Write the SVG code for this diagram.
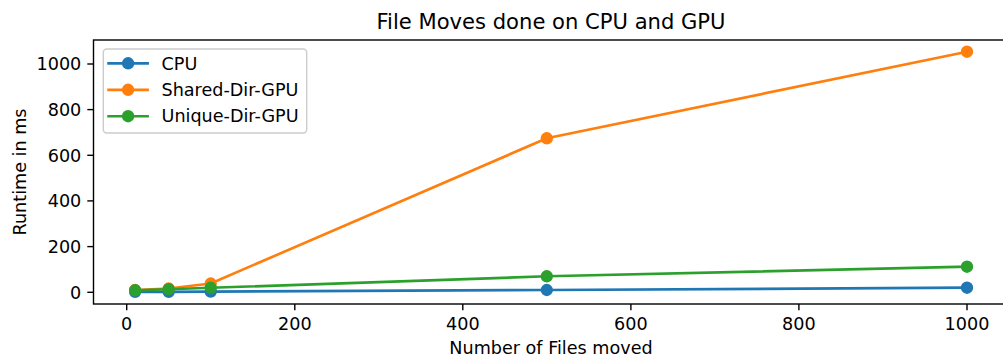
<svg xmlns="http://www.w3.org/2000/svg" width="1003" height="358" viewBox="0 0 1003 358">
  <style>
    text { font-family: "DejaVu Sans", "Liberation Sans", sans-serif; fill: #000; }
    .tick { font-size: 17.6px; }
    .ytl { text-anchor: end; }
    .xtl { text-anchor: middle; }
    .lbl { font-size: 17.6px; text-anchor: middle; }
    .title { font-size: 21.1px; text-anchor: middle; }
    .leg { font-size: 17.6px; }
    .spine { fill: none; stroke: #000; stroke-width: 1.4; stroke-linecap: square; }
    .tk { stroke: #000; stroke-width: 1.4; }
    .series { fill: none; stroke-width: 2.65; stroke-linejoin: round; stroke-linecap: square; }
    .cpu { stroke: #1f77b4; }
    .shared { stroke: #ff7f0e; }
    .unique { stroke: #2ca02c; }
    .m-cpu { fill: #1f77b4; stroke: #1f77b4; stroke-width: 1.76; }
    .m-shared { fill: #ff7f0e; stroke: #ff7f0e; stroke-width: 1.76; }
    .m-unique { fill: #2ca02c; stroke: #2ca02c; stroke-width: 1.76; }
  </style>
  <defs>
    <circle id="dot" r="5.3"/>
    <clipPath id="plotArea">
      <rect x="93.5" y="40" width="915" height="264"/>
    </clipPath>
  </defs>

  <rect x="0" y="0" width="1003" height="358" fill="#ffffff"/>

  <!-- title -->
  <text id="title" class="title" x="551" y="29.4">File Moves done on CPU and GPU</text>

  <!-- axes frame and ticks -->
  <g id="axes">
    <rect class="spine" x="93.5" y="40" width="915" height="264" fill="#ffffff"/>
    <g id="xticks">
      <line class="tk" x1="126.7" y1="304" x2="126.7" y2="310.2"/>
      <line class="tk" x1="294.8" y1="304" x2="294.8" y2="310.2"/>
      <line class="tk" x1="462.8" y1="304" x2="462.8" y2="310.2"/>
      <line class="tk" x1="630.9" y1="304" x2="630.9" y2="310.2"/>
      <line class="tk" x1="798.9" y1="304" x2="798.9" y2="310.2"/>
      <line class="tk" x1="967" y1="304" x2="967" y2="310.2"/>
      <text class="tick xtl" x="126.7" y="330">0</text>
      <text class="tick xtl" x="294.8" y="330">200</text>
      <text class="tick xtl" x="462.8" y="330">400</text>
      <text class="tick xtl" x="630.9" y="330">600</text>
      <text class="tick xtl" x="798.9" y="330">800</text>
      <text class="tick xtl" x="967" y="330">1000</text>
    </g>
    <g id="yticks">
      <line class="tk" x1="87.3" y1="292.3" x2="93.5" y2="292.3"/>
      <line class="tk" x1="87.3" y1="246.6" x2="93.5" y2="246.6"/>
      <line class="tk" x1="87.3" y1="200.9" x2="93.5" y2="200.9"/>
      <line class="tk" x1="87.3" y1="155.3" x2="93.5" y2="155.3"/>
      <line class="tk" x1="87.3" y1="109.6" x2="93.5" y2="109.6"/>
      <line class="tk" x1="87.3" y1="64" x2="93.5" y2="64"/>
      <text class="tick ytl" x="81.3" y="298.7">0</text>
      <text class="tick ytl" x="81.3" y="253">200</text>
      <text class="tick ytl" x="81.3" y="207.3">400</text>
      <text class="tick ytl" x="81.3" y="161.7">600</text>
      <text class="tick ytl" x="81.3" y="116">800</text>
      <text class="tick ytl" x="81.3" y="70.4">1000</text>
    </g>
    <text id="xlabel" class="lbl" x="551" y="354">Number of Files moved</text>
    <text id="ylabel" class="lbl" transform="translate(25.5 172) rotate(-90)">Runtime in ms</text>
  </g>

  <!-- data series -->
  <g id="series" clip-path="url(#plotArea)">
    <g id="cpu">
      <polyline class="series cpu" points="135.1,291.8 168.7,291.8 210.7,291.6 546.8,290 967,287.7"/>
      <use href="#dot" class="m-cpu" x="135.1" y="291.8"/>
      <use href="#dot" class="m-cpu" x="168.7" y="291.8"/>
      <use href="#dot" class="m-cpu" x="210.7" y="291.6"/>
      <use href="#dot" class="m-cpu" x="546.8" y="290"/>
      <use href="#dot" class="m-cpu" x="967" y="287.7"/>
    </g>
    <g id="shared-dir-gpu">
      <polyline class="series shared" points="135.1,290 168.7,288.5 210.7,283.5 546.8,138.3 967,51.7"/>
      <use href="#dot" class="m-shared" x="135.1" y="290"/>
      <use href="#dot" class="m-shared" x="168.7" y="288.5"/>
      <use href="#dot" class="m-shared" x="210.7" y="283.5"/>
      <use href="#dot" class="m-shared" x="546.8" y="138.3"/>
      <use href="#dot" class="m-shared" x="967" y="51.7"/>
    </g>
    <g id="unique-dir-gpu">
      <polyline class="series unique" points="135.1,290.3 168.7,289.2 210.7,287.8 546.8,276.3 967,266.7"/>
      <use href="#dot" class="m-unique" x="135.1" y="290.3"/>
      <use href="#dot" class="m-unique" x="168.7" y="289.2"/>
      <use href="#dot" class="m-unique" x="210.7" y="287.8"/>
      <use href="#dot" class="m-unique" x="546.8" y="276.3"/>
      <use href="#dot" class="m-unique" x="967" y="266.7"/>
    </g>
  </g>

  <!-- legend -->
  <g id="legend">
    <rect x="103.3" y="49" width="203.4" height="84" rx="3.5" fill="#ffffff" fill-opacity="0.8" stroke="#cccccc" stroke-width="1.4"/>
    <line class="series cpu" x1="108.6" y1="63.3" x2="147.6" y2="63.3" stroke-linecap="butt"/>
    <use href="#dot" class="m-cpu" x="128.1" y="63.3"/>
    <text class="leg" x="161.5" y="69.6">CPU</text>
    <line class="series shared" x1="108.6" y1="89.8" x2="147.6" y2="89.8" stroke-linecap="butt"/>
    <use href="#dot" class="m-shared" x="128.1" y="89.8"/>
    <text class="leg" x="161.5" y="96.1">Shared-Dir-GPU</text>
    <line class="series unique" x1="108.6" y1="116.2" x2="147.6" y2="116.2" stroke-linecap="butt"/>
    <use href="#dot" class="m-unique" x="128.1" y="116.2"/>
    <text class="leg" x="161.5" y="122.4">Unique-Dir-GPU</text>
  </g>
</svg>
